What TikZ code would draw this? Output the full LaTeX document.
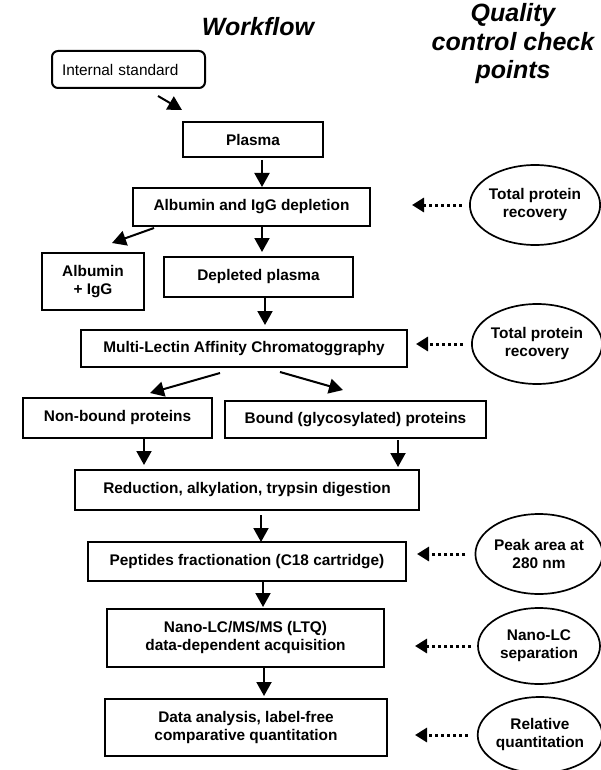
\documentclass[tikz,border=0pt]{standalone}
\usepackage{fontspec}
\setmainfont{Liberation Sans}
\usetikzlibrary{arrows.meta,shapes.geometric}
\begin{document}
\begin{tikzpicture}[x=1pt,y=-1pt,
  box/.style={draw, line width=2pt, inner sep=0pt, outer sep=0pt,
    font=\fontsize{15.4}{18}\selectfont\bfseries, align=center},
  qc/.style={draw, ellipse, line width=1.7pt, inner sep=0pt, outer sep=0pt,
    minimum width=124pt, minimum height=80pt,
    font=\fontsize{15.4}{18}\selectfont\bfseries, align=center},
  ttl/.style={font=\fontsize{25}{28.5}\selectfont\bfseries\itshape, align=center, inner sep=0pt},
  arr/.style={line width=2pt, -{Triangle[length=14pt,width=15pt]}},
  darr/.style={line width=3pt, dash pattern=on 3pt off 3pt, -{Triangle[length=12pt,width=14pt]}},
]
\useasboundingbox (0,0) rectangle (600,770);

% titles
\node[ttl] (tw) at (258,27) {Workflow};
\node[ttl] (tq) at (513,44) {Quality\\control check\\points};

% workflow boxes
\node[draw, line width=2pt, rounded corners=6pt, inner sep=0pt, inner xsep=10pt, outer sep=0pt,
  text width=133pt, minimum height=37pt, align=left,
  font=\fontsize{15.4}{18}\selectfont] (istd) at (128.5,69.5) {Internal standard};
\node[box, minimum width=140pt, minimum height=35pt] (plasma) at (253,139.5) {Plasma};
\node[box, minimum width=237pt, minimum height=38pt] (dep) at (251.5,207) {Albumin and IgG depletion};
\node[box, minimum width=102pt, minimum height=57pt] (alb) at (93,281.5) {Albumin\\+ IgG};
\node[box, minimum width=189pt, minimum height=40pt] (depl) at (258.5,277) {Depleted plasma};
\node[box, minimum width=326pt, minimum height=37pt] (mlac) at (244,348.5) {Multi-Lectin Affinity Chromatoggraphy};
\node[box, minimum width=189pt, minimum height=40pt] (nonb) at (117.5,418) {Non-bound proteins};
\node[box, minimum width=261pt, minimum height=37pt] (bound) at (355.5,419.5) {Bound (glycosylated) proteins};
\node[box, minimum width=344pt, minimum height=40pt] (red) at (247,490) {Reduction, alkylation, trypsin digestion};
\node[box, minimum width=318pt, minimum height=39pt] (pep) at (247,561.5) {Peptides fractionation (C18 cartridge)};
\node[box, minimum width=277pt, minimum height=58pt] (nano) at (245.5,638) {Nano-LC/MS/MS (LTQ)\\data-dependent acquisition};
\node[box, minimum width=282pt, minimum height=57pt] (data) at (246,727.5) {Data analysis, label-free\\comparative quantitation};

% quality control ellipses
\node[qc, minimum width=128pt] (e1) at (535,205) {Total protein\\recovery};
\node[qc] (e2) at (537,344) {Total protein\\recovery};
\node[qc, minimum width=122pt] (e3) at (539,554) {Peak area at\\280 nm};
\node[qc, minimum width=122pt, minimum height=76pt] (e4) at (539,646) {Nano-LC\\separation};
\node[qc, minimum width=118pt, minimum height=76pt] (e5) at (540,735) {Relative\\quantitation};

% solid workflow arrows
\draw[arr] ([xshift=29.5pt,yshift=-8pt]istd.south) -- ([xshift=-1pt,yshift=12pt]plasma.north west);
\draw[arr, shorten <=3pt, shorten >=1pt] ([xshift=9pt]plasma.south) -- ([xshift=9pt]plasma.south |- dep.north);
\draw[arr] ([xshift=21pt,yshift=-2pt]dep.south west) -- ([xshift=70pt,yshift=10pt]alb.north west);
\draw[arr, shorten <=1pt, shorten >=5pt] ([xshift=10.5pt]dep.south) -- ([xshift=10.5pt]dep.south |- depl.north);
\draw[arr, shorten >=5pt] ([xshift=6.5pt]depl.south) -- ([xshift=6.5pt]depl.south |- mlac.north);
\draw[arr] ([xshift=-24pt,yshift=-6pt]mlac.south) -- ([xshift=32.5pt,yshift=5pt]nonb.north);
\draw[arr] ([xshift=36pt,yshift=-5pt]mlac.south) -- ([xshift=-12.5pt,yshift=11pt]bound.north);
\draw[arr, shorten >=5pt] ([xshift=26.5pt]nonb.south) -- ([xshift=26.5pt]nonb.south |- red.north);
\draw[arr, shorten <=2pt, shorten >=3pt] ([xshift=42.5pt]bound.south) -- ([xshift=42.5pt]bound.south |- red.north);
\draw[arr, shorten <=5pt] ([xshift=14pt]red.south) -- ([xshift=14pt]red.south |- pep.north);
\draw[arr, shorten <=1pt, shorten >=2pt] ([xshift=16pt]pep.south) -- ([xshift=16pt]pep.south |- nano.north);
\draw[arr, shorten >=3pt] ([xshift=18.5pt]nano.south) -- ([xshift=18.5pt]nano.south |- data.north);

% dotted QC arrows
\draw[darr, shorten <=8pt, shorten >=42pt] (e1.west) -- (e1.west -| dep.east);
\draw[darr, shorten <=9pt, shorten >=9pt] (e2.west) -- (e2.west -| mlac.east);
\draw[darr, shorten <=10pt, shorten >=11pt] (e3.west) -- (e3.west -| pep.east);
\draw[darr, shorten <=7pt, shorten >=31pt] (e4.west) -- (e4.west -| nano.east);
\draw[darr, shorten <=10pt, shorten >=28pt] (e5.west) -- (e5.west -| data.east);
\end{tikzpicture}
\end{document}
